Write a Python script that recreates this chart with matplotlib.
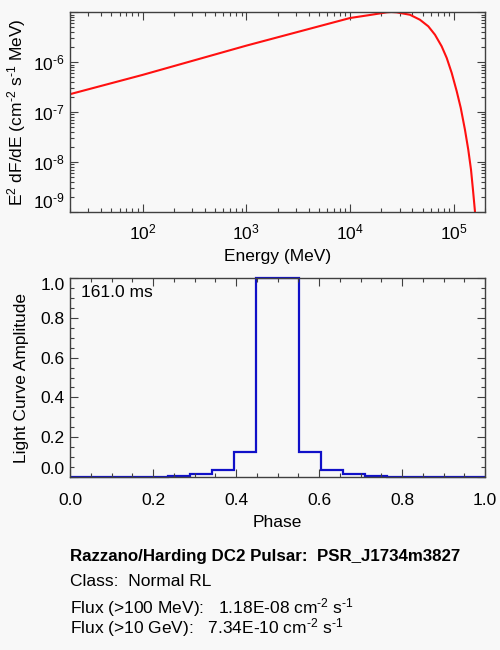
import matplotlib
matplotlib.use('Agg')
import matplotlib.pyplot as plt
from matplotlib.ticker import LogLocator, MultipleLocator, NullFormatter

plt.rcParams['font.family'] = 'Liberation Sans'
plt.rcParams['mathtext.fontset'] = 'custom'
plt.rcParams['mathtext.rm'] = 'Liberation Sans'
plt.rcParams['mathtext.it'] = 'Liberation Sans'
plt.rcParams['mathtext.default'] = 'regular'

# spectrum (MeV, E^2 dF/dE)
energy_mev = [20, 100, 1000, 1.0e4, 1.5e4, 2.26e4, 2.5e4, 2.82e4, 3.78e4, 4.72e4,
              5.68e4, 6.59e4, 7.64e4, 8.55e4, 9.55e4, 1.067e5, 1.167e5, 1.282e5,
              1.38e5, 1.466e5, 1.531e5, 1.60e5, 1.68e5]
e2dnde = [2.29e-7, 5.57e-7, 2.15e-6, 7.7e-6, 8.75e-6, 1.0e-5, 1.015e-5, 1.0e-5, 8.95e-6, 7.11e-6,
          5.25e-6, 3.56e-6, 2.09e-6, 1.22e-6, 6.11e-7, 2.63e-7, 1.22e-7, 4.43e-8,
          1.76e-8, 7.02e-9, 2.79e-9, 1.03e-9, 3.0e-10]

# light curve
phase_edges = [0.0, 0.185, 0.237, 0.289, 0.341, 0.395, 0.447, 0.551,
               0.605, 0.657, 0.711, 0.763, 0.815, 1.0]
amplitude = [0.0015, 0.003, 0.008, 0.018, 0.0365, 0.125, 1.0,
             0.125, 0.0365, 0.018, 0.008, 0.003, 0.0015]

period_text = '161.0 ms'
info_lines = ['Razzano/Harding DC2 Pulsar:  PSR_J1734m3827',
              'Class:  Normal RL',
              'Flux (>100 MeV):   1.18E-08 cm$^{\\text{-}2}$ s$^{\\text{-}1}$',
              'Flux (>10 GeV):   7.34E-10 cm$^{\\text{-}2}$ s$^{\\text{-}1}$']

bg = '#f8f8f8'
axcol = '#404040'
fs = 12.5

fig = plt.figure(figsize=(5, 6.5), dpi=100, facecolor=bg)

def style(ax, xpad):
    ax.set_facecolor(bg)
    for s in ax.spines.values():
        s.set_color(axcol)
        s.set_linewidth(1.0)
    ax.tick_params(which='both', direction='in', top=True, right=True, color=axcol,
                   labelsize=fs)
    ax.tick_params(axis='x', pad=xpad)
    ax.tick_params(axis='y', pad=4)
    ax.tick_params(which='major', length=6, width=0.8)
    ax.tick_params(which='minor', length=3, width=0.8)

# top: spectrum
ax1 = fig.add_axes([0.14, 0.674, 0.83, 0.307])
style(ax1, 7.5)
ax1.plot(energy_mev, e2dnde, color='#ff1010', lw=1.5)
ax1.set_xscale('log')
ax1.set_yscale('log')
ax1.set_xlim(20, 2e5)
ax1.set_ylim(1e-9, 1e-5)
ax1.set_xticks([1e2, 1e3, 1e4, 1e5], ['$10^{2}$', '$10^{3}$', '$10^{4}$', '$10^{5}$'])
ax1.set_yticks([1e-9, 1e-8, 1e-7, 1e-6, 1e-5],
               ['$10^{\\text{-}9}$', '$10^{\\text{-}8}$', '$10^{\\text{-}7}$', '$10^{\\text{-}6}$', ''])
ax1.xaxis.set_minor_locator(LogLocator(base=10, subs=range(2, 10)))
ax1.yaxis.set_minor_locator(LogLocator(base=10, subs=range(2, 10)))
ax1.xaxis.set_minor_formatter(NullFormatter())
ax1.yaxis.set_minor_formatter(NullFormatter())
ax1.get_yticklabels()[0].set_va('bottom')
ax1.set_xlabel('Energy (MeV)', fontsize=fs, labelpad=5)
ax1.set_ylabel('E$^{2}$ dF/dE (cm$^{\\text{-}2}$ s$^{\\text{-}1}$ MeV)', fontsize=fs, labelpad=3)

# bottom: light curve
ax2 = fig.add_axes([0.14, 0.2657, 0.83, 0.307])
style(ax2, 11)
ax2.stairs(amplitude, phase_edges, color='#1010c8', lw=1.6, baseline=None, clip_on=False)
ax2.set_xlim(0, 1)
ax2.set_ylim(0, 1)
ax2.set_xticks([0, 0.2, 0.4, 0.6, 0.8, 1.0], ['0.0', '0.2', '0.4', '0.6', '0.8', '1.0'])
ax2.set_yticks([0, 0.2, 0.4, 0.6, 0.8, 1.0], ['0.0', '0.2', '0.4', '0.6', '0.8', '1.0'])
ax2.xaxis.set_minor_locator(MultipleLocator(0.05))
ax2.yaxis.set_minor_locator(MultipleLocator(0.05))
ylabs = ax2.get_yticklabels()
ylabs[0].set_va('bottom')
ylabs[-1].set_va('top')
ax2.set_xlabel('Phase', fontsize=fs, labelpad=5)
ax2.set_ylabel('Light Curve Amplitude', fontsize=fs, labelpad=8)
ax2.text(0.027, 0.928, period_text, transform=ax2.transAxes, fontsize=fs, va='center')

# info block
ys = [0.1435, 0.105, 0.066, 0.034]
for i, (txt, y) in enumerate(zip(info_lines, ys)):
    fig.text(0.14, y, txt, fontsize=12.2 if i == 0 else fs, va='center',
             fontweight='bold' if i == 0 else 'normal')

fig.savefig('out.png', dpi=100, facecolor=bg)
